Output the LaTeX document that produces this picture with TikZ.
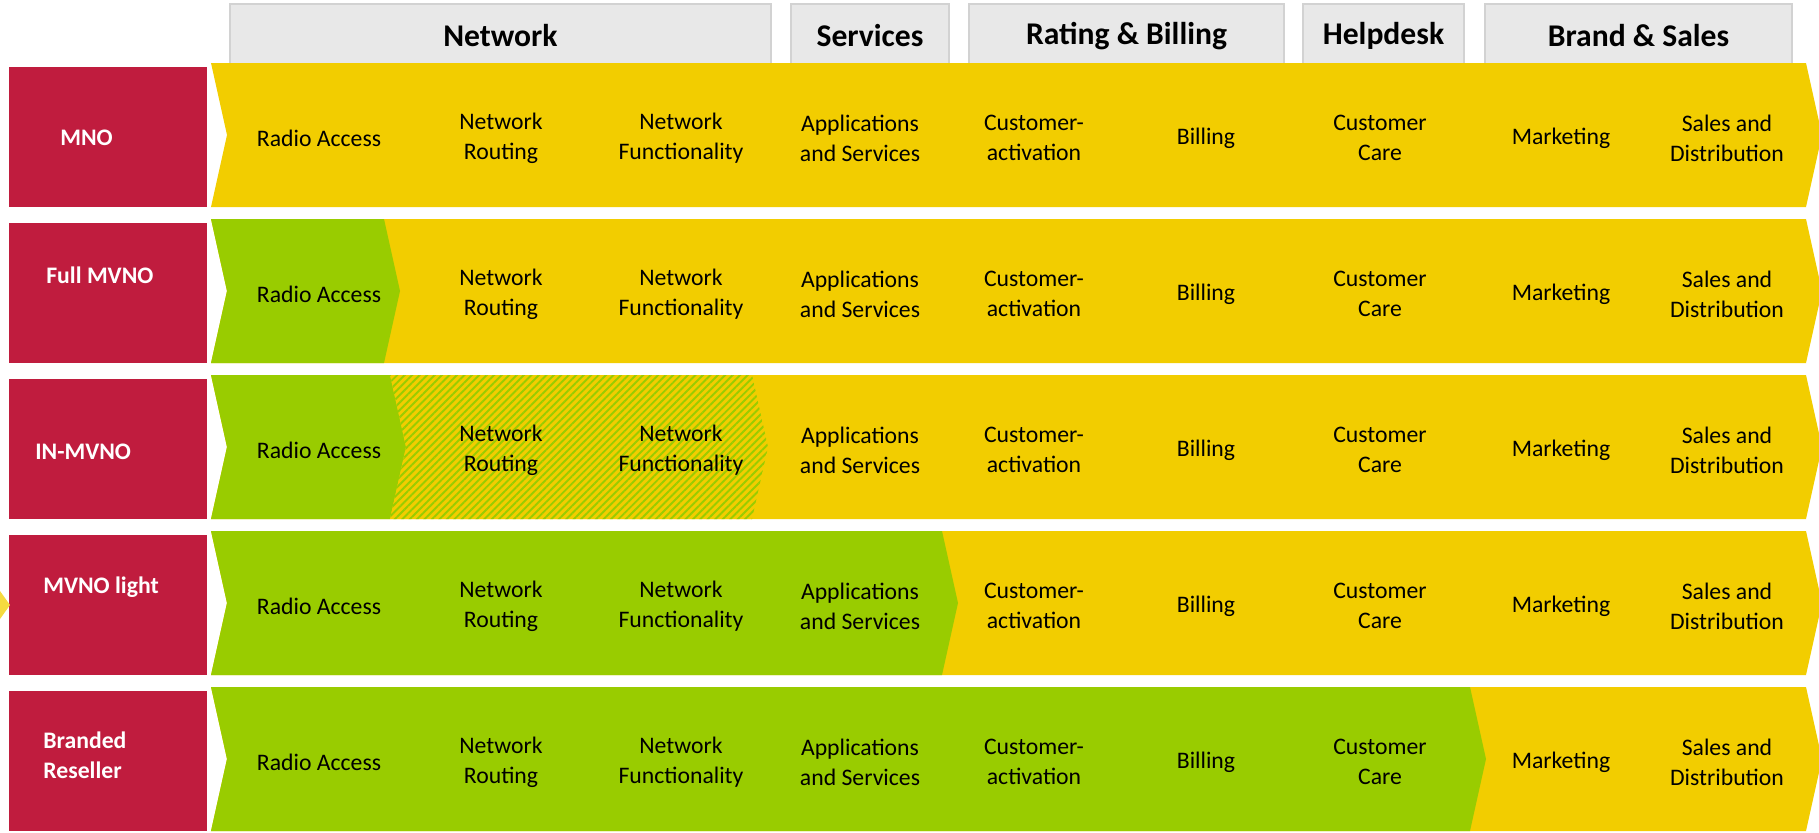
\documentclass[tikz,border=0pt]{standalone}
\usepackage{fontspec}
\setmainfont{Carlito}
\usetikzlibrary{patterns.meta}

\definecolor{rolered}{HTML}{C01C3E}
\definecolor{chevyellow}{HTML}{F2CD00}
\definecolor{chevgreen}{HTML}{99CC00}
\definecolor{headgray}{HTML}{E8E8E8}
\definecolor{headline}{HTML}{D2D2D2}

\tikzset{
  headbox/.style={draw=headline, fill=headgray, line width=0.6pt},
  headtext/.style={font=\fontsize{18}{22}\selectfont\bfseries, inner sep=0pt},
  roletext/.style={font=\fontsize{13.5}{16.8}\selectfont\bfseries, text=white, anchor=west, align=left, inner sep=0pt},
  tasktext/.style={font=\fontsize{13.5}{17}\selectfont, align=center, inner sep=0pt},
  hatched/.style={fill=chevyellow, postaction={pattern={Lines[angle=45,distance=3pt,line width=1.1pt]}, pattern color=chevgreen}},
}

% chevron from x=#2 to x=#3, top at y=#4
\newcommand{\chevpath}[4][]{%
  \fill[#1] (#2,#4) -- (#3,#4) -- ({#3+16},{#4+72}) -- (#3,{#4+144}) -- (#2,{#4+144}) -- ({#2+16},{#4+72}) -- cycle;}

\begin{document}
\begin{tikzpicture}[x=0.02cm,y=-0.02cm]
\useasboundingbox (0,0) rectangle (1819,832);

% column headings
\foreach \a/\b/\lbl [count=\i] in {230/771/Network, 791/949/Services, 969/1284/Rating \& Billing, 1303/1464/Helpdesk, 1485/1792/Brand \& Sales} {
  \draw[headbox] (\a,4) rectangle (\b,64);
  \node[headtext] (head\i) at ({(\a+\b)/2},36) {\lbl};
}

% rows: role box and yellow chain
\foreach \r in {0,...,4} {
  \pgfmathsetmacro\t{63+156*\r}
  \fill[rolered] (9,{\t+4}) rectangle (207,{\t+144});
  \chevpath[chevyellow]{211}{1806}{\t}
}
\chevpath[chevgreen]{211}{384}{219}
\chevpath[chevgreen]{211}{390}{375}
\chevpath[hatched]{390}{752}{375}
\chevpath[chevgreen]{211}{942}{531}
\chevpath[chevgreen]{211}{1470}{687}
\fill[chevyellow!75!white] (0,591) -- (10,605) -- (0,619) -- cycle;

% role labels
\foreach \lbl/\x/\y [count=\i] in {MNO/60/138, Full MVNO/46/275, IN-MVNO/35/452, MVNO light/43/587, Branded\\Reseller/43/755}
  \node[roletext] (role\i) at (\x,\y) {\lbl};

% task labels
\foreach \r in {0,...,4} {
  \foreach \lbl/\x [count=\c] in {Radio Access/319, Network\\Routing/501, Network\\Functionality/681, Applications\\and Services/860, Customer-\\activation/1034, Billing/1206, Customer\\Care/1380, Marketing/1561, Sales and\\Distribution/1727}
    \node[tasktext] (task\r-\c) at (\x,{138+156*\r}) {\lbl};
}
\end{tikzpicture}
\end{document}
